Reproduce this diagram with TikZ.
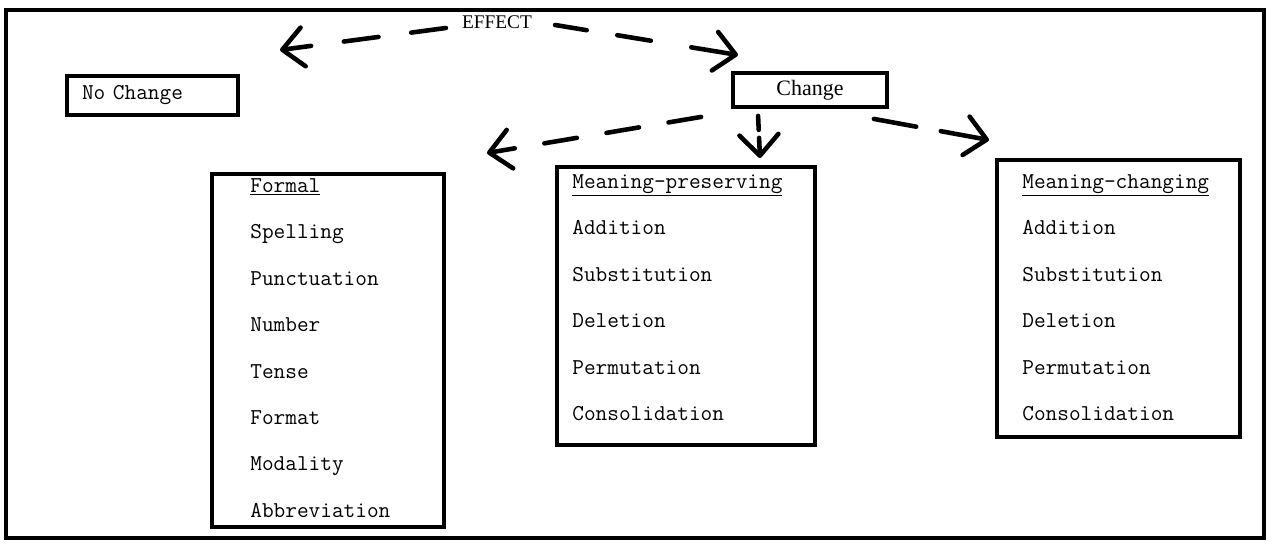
\documentclass[tikz,border=0pt]{standalone}
\usepackage{fontspec}
\setmainfont{Liberation Serif}
\usetikzlibrary{positioning,arrows.meta}

\begin{document}
\begin{tikzpicture}[
    x=0.02cm, y=-0.02cm,
    node distance=0.93cm,
    frame/.style={line width=2.4pt},
    box/.style={rectangle, draw, line width=2.2pt, anchor=north west, inner sep=0pt},
    tag/.style={rectangle, draw, line width=2.2pt, inner sep=0pt},
    entry/.style={anchor=west, inner sep=0pt, text height=1.5ex, text depth=0.25ex, font=\ttfamily\fontsize{12.9}{14}\selectfont},
    under/.style={below=of #1.west, anchor=west},
    dasharrow/.style={line width=2.6pt, line cap=round, dash pattern=on 0.66cm off 0.6cm, -{Straight Barb[length=0.42cm, width=0.78cm, round]}}
]
\useasboundingbox (0,0) rectangle (1279,545);

% Frame
\draw[frame] (6,10) rectangle (1264,538);

% Top level
\node[font=\fontsize{11}{12}\selectfont] (effect) at (497,22) {EFFECT};
\node[tag, minimum width=3.42cm, minimum height=0.78cm, inner xsep=0.3cm, text width=2.82cm, align=left, font=\ttfamily\fontsize{12.9}{14}\selectfont] (nochange) at (152.5,95.5) {No Change};
\node[tag, minimum width=3.08cm, minimum height=0.68cm, font=\fontsize{12.5}{14}\selectfont] (change) at (810,90) {Change};

% Boxes
\node[box, minimum width=4.64cm, minimum height=7.06cm] (formal) at (210,172) {};
\node[box, minimum width=5.16cm, minimum height=5.56cm] (preserving) at (555,165) {};
\node[box, minimum width=4.86cm, minimum height=5.54cm] (changing) at (995,158) {};

% Formal
\node[entry] (formalhead) at (250,187) {\underline{Formal}};
\node[entry, under=formalhead] (spelling) {Spelling};
\node[entry, under=spelling] (punctuation) {Punctuation};
\node[entry, under=punctuation] (number) {Number};
\node[entry, under=number] (tense) {Tense};
\node[entry, under=tense] (format) {Format};
\node[entry, under=format] (modality) {Modality};
\node[entry, under=modality] (abbreviation) {Abbreviation};

% Meaning-preserving
\node[entry] (preservinghead) at (572,183) {\underline{Meaning-preserving}};
\node[entry, under=preservinghead] (paddition) {Addition};
\node[entry, under=paddition] (psubstitution) {Substitution};
\node[entry, under=psubstitution] (pdeletion) {Deletion};
\node[entry, under=pdeletion] (ppermutation) {Permutation};
\node[entry, under=ppermutation] (pconsolidation) {Consolidation};

% Meaning-changing
\node[entry] (changinghead) at (1022,183) {\underline{Meaning-changing}};
\node[entry, under=changinghead] (caddition) {Addition};
\node[entry, under=caddition] (csubstitution) {Substitution};
\node[entry, under=csubstitution] (cdeletion) {Deletion};
\node[entry, under=cdeletion] (cpermutation) {Permutation};
\node[entry, under=cpermutation] (cconsolidation) {Consolidation};

% Arrow ends
\coordinate (effectleft) at (280,50);
\coordinate (effectright) at (738,55);
\coordinate (formaltip) at (487,153);
\coordinate (preservingtip) at (760,158);
\coordinate (changingtip) at (989,140);

% Arrows
\draw[dasharrow, dash pattern=on 0.7cm off 0.66cm] ([xshift=-0.2cm, yshift=-0.12cm]effect.west) -- (effectleft);
\draw[dasharrow, dash pattern=on 0.64cm off 0.62cm on 0.68cm off 0.82cm on 1cm] ([xshift=0.34cm, yshift=-0.06cm]effect.east) -- (effectright);
\draw[dasharrow] ([xshift=-0.6cm, yshift=-0.16cm]change.south west) -- (formaltip);
\draw[dasharrow, dash pattern=on 0.28cm off 0.16cm] ([xshift=0.54cm, yshift=-0.14cm]change.south west) -- (preservingtip);
\draw[dasharrow, dash pattern=on 0.86cm off 0.5cm] ([xshift=-0.3cm, yshift=-0.2cm]change.south east) -- (changingtip);

\end{tikzpicture}
\end{document}
